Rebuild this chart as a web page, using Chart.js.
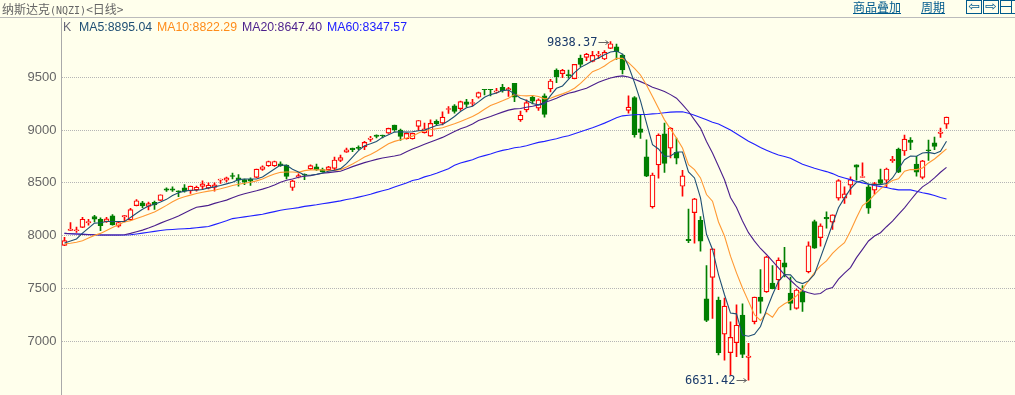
<!DOCTYPE html>
<html>
<head>
<meta charset="utf-8">
<script src="https://cdn.jsdelivr.net/npm/chart.js@4"></script>
<style>
html, body { margin: 0; padding: 0; background: #ffffec; }
#page { position: relative; width: 1015px; height: 395px; overflow: hidden; background: #ffffec; }
#myChart { position: absolute; left: 0; top: 0; }
.abs { position: absolute; white-space: nowrap; }
#title { left: 2px; top: 0; font: 12px/17px "Noto Sans CJK SC"; color: #666; }
#title span { font: 10px "DejaVu Sans Mono"; }
#topLine { left: 0; top: 17px; width: 1015px; height: 1px; background: #bbb; }
.link { top: 0; font: 12px/14px "Noto Sans CJK SC"; color: #005a8c; text-decoration: underline; }
.btn { top: 0; width: 14px; height: 12px; border: 1px solid #005a8c; color: #005a8c; font: 14px/11px "DejaVu Sans"; text-align: center; }
.legend { top: 20px; font: 12.3px/15px "Liberation Sans"; }
</style>
</head>
<body>
<div id="page">
  <canvas id="myChart" width="1016" height="395"></canvas>
  <div class="abs" id="title">纳斯达克<span>(NQZI)</span>&lt;日线&gt;</div>
  <div class="abs" id="topLine"></div>
  <div class="abs link" style="left:853px">商品叠加</div>
  <div class="abs link" style="left:921px">周期</div>
  <div class="abs btn" style="left:966px">⇦</div>
  <div class="abs btn" style="left:983px">⇨</div>
  <div class="abs btn" style="left:1000px;background:linear-gradient(#005a8c,#005a8c) 0 5px/10px 1px no-repeat,linear-gradient(#005a8c,#005a8c) 10px 0/1px 12px no-repeat"></div>
  <div class="abs legend" style="left:63px;color:#667">K</div>
  <div class="abs legend" style="left:79px;color:#1f4f74">MA5:8895.04</div>
  <div class="abs legend" style="left:157px;color:#ff8c1a">MA10:8822.29</div>
  <div class="abs legend" style="left:242px;color:#4b1f8c">MA20:8647.40</div>
  <div class="abs legend" style="left:327px;color:#2020ff">MA60:8347.57</div>
</div>
<script>
const yTicks = [7000, 7500, 8000, 8500, 9000, 9500];

const opens = [
  7909, 8050, 8047, 8078, 8122, 8181, 8156, 8134, 8187, 8091,
  8178, 8150, 8284, 8312, 8278, 8316, 8334, 8444, 8444, 8425,
  8453, 8425, 8434, 8466, 8450, 8456, 8525, 8525, 8569, 8547,
  8531, 8534, 8553, 8628, 8662, 8662, 8681, 8669, 8456, 8557,
  8582, 8632, 8651, 8626, 8626, 8638, 8714, 8792, 8830, 8836,
  8840, 8912, 8953, 8953, 8972, 9047, 9000, 8918, 8918, 9035,
  8975, 8943, 9082, 9066, 9195, 9230, 9204, 9267, 9252, 9311,
  9387, 9387, 9358, 9406, 9380, 9443, 9097, 9192, 9311, 9208,
  9324, 9390, 9569, 9535, 9525, 9487, 9682, 9689, 9651, 9708,
  9673, 9774, 9789, 9711, 9186, 9308, 9013, 8748, 8273, 8670,
  8965, 8830, 8789, 8468, 7965, 8219, 8146, 7403, 7606, 7390,
  7067, 6892, 6987, 7248, 6847, 7187, 7419, 7467, 7552, 7581,
  7743, 7457, 7311, 7470, 7657, 8133, 7981, 8173, 8129, 8355,
  8355, 8478, 8670, 8553, 8462, 8431, 8531, 8525, 8711, 8821,
  8802, 8906, 8679, 8553, 8814, 8880, 8969, 9057
];
const closes = [
  7953, 8062, 8056, 8156, 8134, 8156, 8094, 8159, 8103, 8125,
  8191, 8247, 8331, 8281, 8303, 8291, 8388, 8431, 8431, 8416,
  8422, 8469, 8459, 8491, 8478, 8481, 8537, 8547, 8562, 8525,
  8506, 8516, 8631, 8653, 8703, 8703, 8662, 8562, 8519, 8569,
  8572, 8663, 8626, 8604, 8651, 8717, 8739, 8814, 8814, 8827,
  8884, 8925, 8940, 8947, 9016, 9003, 8940, 8969, 8969, 9091,
  9013, 9063, 9060, 9123, 9204, 9176, 9270, 9242, 9261, 9355,
  9384, 9384, 9371, 9374, 9393, 9311, 9141, 9261, 9274, 9286,
  9148, 9465, 9506, 9566, 9516, 9623, 9623, 9720, 9708, 9720,
  9736, 9818, 9742, 9569, 9217, 8956, 8978, 8563, 8575, 8953,
  8685, 9019, 8733, 8566, 7952, 8349, 7949, 7197, 7876, 6892,
  7333, 7038, 7152, 6876, 6860, 7419, 7378, 7800, 7498, 7768,
  7702, 7359, 7486, 7371, 7905, 7883, 8094, 8160, 8198, 8522,
  8396, 8531, 8648, 8560, 8261, 8494, 8494, 8632, 8723, 8601,
  8915, 8884, 8601, 8708, 8805, 8846, 8981, 9123
];
const highs = [
  7984, 8125, 8081, 8175, 8156, 8194, 8169, 8175, 8200, 8137,
  8191, 8259, 8341, 8325, 8319, 8328, 8388, 8453, 8462, 8425,
  8484, 8469, 8469, 8519, 8500, 8500, 8537, 8556, 8594, 8578,
  8537, 8547, 8631, 8662, 8706, 8706, 8700, 8672, 8525, 8585,
  8585, 8670, 8679, 8641, 8657, 8745, 8764, 8830, 8830, 8852,
  8893, 8940, 8956, 8953, 9019, 9047, 9009, 8972, 8972, 9091,
  9066, 9097, 9097, 9173, 9223, 9242, 9274, 9292, 9292, 9359,
  9387, 9387, 9396, 9434, 9406, 9443, 9179, 9286, 9330, 9296,
  9343, 9481, 9579, 9575, 9569, 9623, 9711, 9726, 9745, 9745,
  9752, 9838.37, 9815, 9720, 9324, 9318, 9145, 8909, 8594, 8965,
  9066, 9025, 8924, 8619, 8251, 8355, 8181, 7717, 7876, 7419,
  7409, 7184, 7346, 7355, 6981, 7419, 7679, 7806, 7717, 7790,
  7889, 7609, 7498, 7527, 7943, 8149, 8113, 8226, 8198, 8531,
  8462, 8557, 8670, 8689, 8481, 8506, 8632, 8641, 8752, 8830,
  8953, 8928, 8752, 8714, 8906, 8934, 9019, 9123
];
const lows = [
  7906, 8050, 8031, 8075, 8100, 8131, 8047, 8125, 8100, 8081,
  8131, 8144, 8281, 8266, 8244, 8250, 8331, 8419, 8419, 8369,
  8412, 8400, 8422, 8437, 8444, 8422, 8494, 8509, 8537, 8469,
  8484, 8475, 8550, 8619, 8656, 8656, 8656, 8537, 8428, 8547,
  8531, 8626, 8619, 8601, 8619, 8626, 8701, 8789, 8796, 8814,
  8814, 8893, 8925, 8925, 8969, 8987, 8902, 8915, 8915, 8994,
  8972, 8940, 9041, 9050, 9157, 9160, 9186, 9217, 9230, 9302,
  9333, 9324, 9349, 9358, 9318, 9270, 9082, 9173, 9248, 9186,
  9123, 9362, 9450, 9497, 9491, 9484, 9601, 9657, 9645, 9676,
  9667, 9770, 9670, 9531, 9160, 8934, 8921, 8560, 8261, 8544,
  8600, 8736, 8679, 8374, 7933, 7930, 7854, 7187, 7216, 6870,
  6822, 6679, 6854, 6844, 6631.42, 7165, 7267, 7463, 7495, 7489,
  7609, 7298, 7305, 7282, 7648, 7879, 7902, 8072, 8060, 8336,
  8305, 8390, 8525, 8553, 8211, 8393, 8487, 8462, 8695, 8597,
  8761, 8814, 8563, 8538, 8714, 8814, 8931, 9016
];

const ma5 = [
  7931, 7950, 7969, 8025, 8072, 8119, 8122, 8134, 8134, 8134,
  8134, 8172, 8212, 8250, 8281, 8297, 8319, 8344, 8381, 8406,
  8422, 8431, 8431, 8437, 8453, 8462, 8475, 8491, 8506, 8531,
  8537, 8537, 8537, 8556, 8594, 8631, 8669, 8666, 8630, 8604,
  8575, 8572, 8582, 8594, 8610, 8619, 8635, 8682, 8745, 8805,
  8852, 8871, 8893, 8931, 8956, 8981, 8984, 8981, 8984, 8994,
  9000, 9022, 9044, 9053, 9088, 9129, 9176, 9211, 9226, 9267,
  9311, 9336, 9352, 9374, 9380, 9343, 9302, 9280, 9252, 9239,
  9248, 9327, 9396, 9418, 9481, 9544, 9594, 9623, 9657, 9682,
  9714, 9739, 9748, 9720, 9607, 9450, 9277, 9066, 8862, 8821,
  8751, 8755, 8792, 8792, 8604, 8547, 8358, 8013, 7870, 7632,
  7441, 7267, 7260, 7060, 7048, 7067, 7140, 7298, 7441, 7568,
  7632, 7629, 7566, 7547, 7572, 7635, 7792, 7950, 8107, 8264,
  8358, 8443, 8506, 8522, 8490, 8484, 8484, 8494, 8547, 8632,
  8720, 8755, 8752, 8783, 8789, 8777, 8799, 8895.04
];
const ma10 = [
  7922, 7928, 7938, 7953, 7978, 8003, 8022, 8050, 8078, 8103,
  8131, 8141, 8162, 8181, 8203, 8225, 8256, 8287, 8322, 8350,
  8369, 8384, 8400, 8412, 8422, 8431, 8444, 8459, 8475, 8487,
  8497, 8506, 8519, 8537, 8562, 8584, 8600, 8603, 8603, 8600,
  8616, 8623, 8623, 8623, 8619, 8619, 8626, 8651, 8679, 8711,
  8745, 8770, 8799, 8836, 8871, 8893, 8909, 8925, 8943, 8972,
  8997, 9003, 9013, 9022, 9041, 9060, 9082, 9104, 9129, 9160,
  9198, 9233, 9255, 9277, 9302, 9336, 9328, 9324, 9328, 9318,
  9296, 9302, 9324, 9343, 9365, 9396, 9443, 9497, 9553, 9575,
  9607, 9648, 9679, 9679, 9638, 9585, 9522, 9428, 9318, 9208,
  9097, 9009, 8924, 8830, 8673, 8626, 8547, 8390, 8327, 8130,
  7997, 7806, 7648, 7505, 7378, 7251, 7197, 7267, 7228, 7314,
  7355, 7384, 7431, 7494, 7572, 7651, 7714, 7761, 7833, 7887,
  7934, 8044, 8170, 8286, 8327, 8390, 8443, 8484, 8522, 8538,
  8610, 8626, 8626, 8641, 8689, 8726, 8774, 8822.29
];
const ma20 = [
  8022, 8019, 8016, 8012, 8009, 8009, 8006, 8006, 8006, 8006,
  8009, 8022, 8037, 8053, 8072, 8094, 8119, 8141, 8162, 8187,
  8216, 8244, 8269, 8278, 8287, 8306, 8322, 8337, 8359, 8381,
  8397, 8412, 8425, 8441, 8459, 8481, 8506, 8525, 8537, 8553,
  8563, 8569, 8579, 8591, 8597, 8604, 8610, 8632, 8654, 8673,
  8692, 8708, 8723, 8736, 8745, 8755, 8767, 8796, 8821, 8843,
  8865, 8887, 8909, 8931, 8959, 8987, 9013, 9031, 9057, 9091,
  9110, 9129, 9151, 9170, 9189, 9201, 9204, 9217, 9226, 9239,
  9261, 9280, 9302, 9327, 9349, 9362, 9380, 9396, 9425, 9453,
  9475, 9494, 9506, 9513, 9503, 9481, 9459, 9434, 9406, 9387,
  9365, 9336, 9302, 9242, 9176, 9097, 9019, 8893, 8783, 8657,
  8530, 8362, 8267, 8140, 8029, 7949, 7879, 7822, 7759, 7695,
  7632, 7578, 7525, 7478, 7459, 7446, 7453, 7494, 7509, 7588,
  7645, 7698, 7792, 7871, 7950, 7997, 8028, 8085, 8138, 8201,
  8264, 8336, 8406, 8462, 8500, 8547, 8601, 8647.40
];
const ma60 = [
  8022, 8019, 8016, 8016, 8012, 8009, 8006, 8006, 8006, 8006,
  8006, 8009, 8016, 8024, 8033, 8041, 8049, 8056, 8059, 8063,
  8066, 8069, 8075, 8081, 8087, 8105, 8123, 8141, 8162, 8170,
  8178, 8187, 8195, 8203, 8216, 8228, 8241, 8250, 8258, 8266,
  8278, 8285, 8293, 8303, 8311, 8320, 8330, 8342, 8352, 8365,
  8378, 8392, 8410, 8425, 8440, 8462, 8481, 8500, 8522, 8535,
  8557, 8572, 8591, 8613, 8635, 8667, 8689, 8704, 8720, 8742,
  8758, 8774, 8792, 8808, 8818, 8833, 8840, 8852, 8868, 8884,
  8893, 8906, 8918, 8934, 8946, 8965, 8984, 9003, 9022, 9044,
  9066, 9091, 9116, 9135, 9141, 9145, 9148, 9148, 9154, 9157,
  9164, 9170, 9173, 9173, 9160, 9141, 9119, 9097, 9075, 9057,
  9030, 9000, 8965, 8930, 8895, 8865, 8835, 8810, 8785, 8765,
  8750, 8733, 8704, 8676, 8657, 8638, 8623, 8607, 8588, 8563,
  8547, 8531, 8513, 8500, 8487, 8475, 8465, 8456, 8443, 8434,
  8434, 8434, 8421, 8406, 8396, 8380, 8362, 8347.57
];

// the axis runs on past the last candle, so blank days fill the right side
const totalDays = 159;
const days = Array.from({ length: totalDays }, (_, i) => `D${i + 1}`);

const bgColor = '#ffffec';
const upColor = '#ff0000';
const downColor = '#007f00';
const candleColors = closes.map((c, i) => (c < opens[i] ? downColor : upColor));
const bodyFill = closes.map((c, i) => (c < opens[i] ? downColor : bgColor));

function maLine(label, data, color) {
    return {
        type: 'line',
        label: label,
        data: data,
        borderColor: color,
        borderWidth: 1.1,
        pointRadius: 0,
        tension: 0,
        order: 0
    };
}

// the high and low notes with their small arrows
const extremeNotes = {
    id: 'extremeNotes',
    afterDatasetsDraw(chart) {
        const { ctx, scales } = chart;
        [highs, lows].forEach((list, n) => {
            const value = n === 0 ? Math.max(...list) : Math.min(...list);
            const x = scales.x.getPixelForValue(list.indexOf(value));
            const y = Math.round(scales.y.getPixelForValue(value)) + 0.5;
            ctx.save();
            ctx.font = '12px "DejaVu Sans Mono"';
            ctx.fillStyle = '#1a3a6a';
            ctx.textAlign = 'right';
            ctx.textBaseline = 'middle';
            ctx.fillText(value.toFixed(2), x - 13, y);
            ctx.strokeStyle = '#666';
            ctx.beginPath();
            ctx.moveTo(x - 12, y);
            ctx.lineTo(x - 2, y);
            ctx.moveTo(x - 5, y - 2);
            ctx.lineTo(x - 2, y);
            ctx.lineTo(x - 5, y + 2);
            ctx.stroke();
            ctx.restore();
        });
    }
};

const ctx = document.getElementById('myChart').getContext('2d');
const chart = new Chart(ctx, {
    type: 'bar',
    data: {
        labels: days,
        datasets: [
            maLine('MA5', ma5, '#1f4f74'),
            maLine('MA10', ma10, '#ff9933'),
            maLine('MA20', ma20, '#4b1f8c'),
            maLine('MA60', ma60, '#2020ff'),
            {
                label: 'body',
                data: opens.map((o, i) => [o, closes[i]]),
                backgroundColor: bodyFill,
                borderColor: candleColors,
                borderWidth: 1.2,
                borderSkipped: false,
                barThickness: 5,
                grouped: false,
                order: 1
            },
            {
                label: 'wick',
                data: lows.map((l, i) => [l, highs[i]]),
                backgroundColor: candleColors,
                borderWidth: 0,
                barThickness: 1,
                grouped: false,
                order: 2
            }
        ]
    },
    options: {
        responsive: false,
        animation: false,
        layout: { padding: { top: 18, right: 0.5, left: 0, bottom: 0 } },
        plugins: {
            legend: { display: false },
            title: { display: false },
            tooltip: { enabled: false }
        },
        scales: {
            x: { display: false, offset: true },
            y: {
                min: 6491.5,
                max: 10061.5,
                afterFit: scale => {
                    scale.width = 61.5;
                    scale.paddingTop = 0;
                    scale.paddingBottom = 0;
                },
                afterBuildTicks: scale => { scale.ticks = yTicks.map(v => ({ value: v })); },
                border: { display: true, color: '#aaa', width: 1, dash: [1, 1] },
                grid: { color: '#b5b5b5', drawTicks: false },
                ticks: {
                    color: '#666',
                    padding: 5,
                    font: { family: 'Liberation Sans', size: 13 },
                    callback: v => String(v)
                }
            }
        }
    },
    plugins: [extremeNotes]
});
</script>
</body>
</html>
